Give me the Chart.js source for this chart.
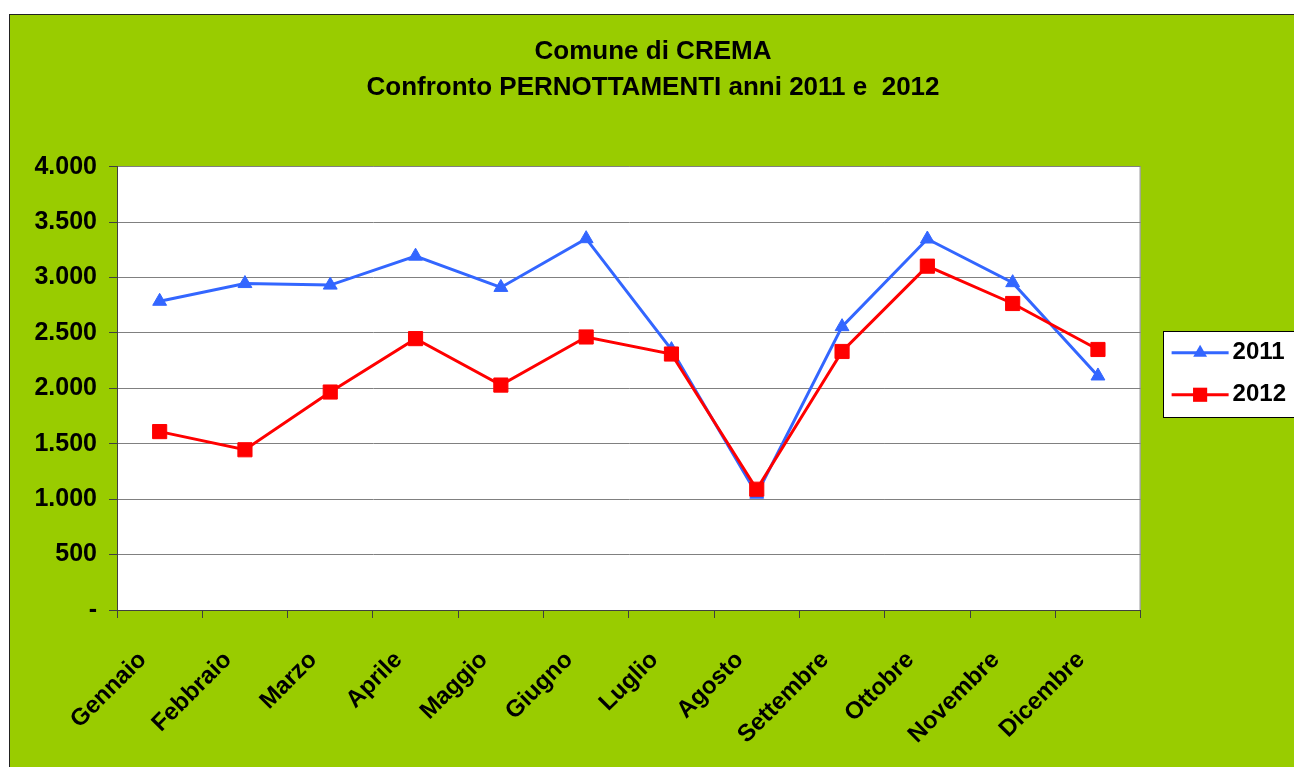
<!DOCTYPE html>
<html>
<head>
<meta charset="utf-8">
<script src="https://cdn.jsdelivr.net/npm/chart.js@4.4.1/dist/chart.umd.min.js"></script>
<style>
html, body { margin: 0; padding: 0; background: #fff; overflow: hidden; }
#box { position: absolute; left: 9px; top: 14px; width: 1300px; height: 760px; border: 1px solid #222; background: #99cc00; }
canvas { display: block; }
</style>
</head>
<body>
<div id="box"><canvas id="myChart" width="1300" height="760"></canvas></div>
<script>
var mesi = ['Gennaio', 'Febbraio', 'Marzo', 'Aprile', 'Maggio', 'Giugno', 'Luglio', 'Agosto', 'Settembre', 'Ottobre', 'Novembre', 'Dicembre'];
var anno2011 = [2786, 2946, 2932, 3193, 2911, 3351, 2350, 1045, 2557, 3348, 2954, 2112];
var anno2012 = [1610, 1446, 1967, 2449, 2030, 2464, 2310, 1090, 2333, 3103, 2766, 2351];
var titolo = ['Comune di CREMA', 'Confronto PERNOTTAMENTI anni 2011 e  2012'];
var yMin = 0, yMax = 4000, yStep = 500;

var font = "'Liberation Sans', Arial, sans-serif";

function formatta(v) {
    if (v === 0) return '-';
    return String(v).replace(/\B(?=(\d{3})+(?!\d))/g, '.');
}

// plot area white + gray border, legend white box, legend line+marker
var sfondo = {
    id: 'sfondo',
    beforeDraw: function(chart) {
        var ctx = chart.ctx, a = chart.chartArea;
        ctx.save();
        ctx.fillStyle = '#fff';
        ctx.fillRect(a.left, a.top, a.right - a.left, a.bottom - a.top);
        ctx.strokeStyle = '#808080';
        ctx.lineWidth = 1;
        ctx.beginPath();
        ctx.moveTo(a.right - 0.5, a.top);
        ctx.lineTo(a.right - 0.5, a.bottom);
        ctx.stroke();
        var hb = chart.legend.legendHitBoxes;
        if (hb && hb.length) {
            var first = hb[0], last = hb[hb.length - 1];
            var x = Math.round(first.left + 4), y = Math.round(first.top - 10);
            var h = Math.round(last.top + last.height + 10) - y;
            ctx.fillStyle = '#fff';
            ctx.fillRect(x, y, chart.width, h);
            ctx.strokeStyle = '#000';
            ctx.strokeRect(x + 0.5, y + 0.5, chart.width, h);
        }
        ctx.restore();
    },
    afterDraw: function(chart) {
        var ctx = chart.ctx;
        var items = chart.legend.legendItems;
        chart.legend.legendHitBoxes.forEach(function(h, i) {
            var ds = chart.data.datasets[items[i].datasetIndex];
            var y = h.top + h.height / 2;
            var cx = h.left + 41.5;
            var r = ds.pointRadius;
            ctx.save();
            ctx.strokeStyle = ds.borderColor;
            ctx.fillStyle = ds.borderColor;
            ctx.lineWidth = 3;
            ctx.beginPath();
            ctx.moveTo(h.left + 13, y);
            ctx.lineTo(h.left + 70, y);
            ctx.stroke();
            ctx.beginPath();
            if (ds.pointStyle === 'triangle') {
                ctx.moveTo(cx, y - r);
                ctx.lineTo(cx + r * 0.866, y + r / 2);
                ctx.lineTo(cx - r * 0.866, y + r / 2);
                ctx.closePath();
            } else {
                var s = r * Math.SQRT1_2;
                ctx.rect(cx - s, y - s, 2 * s, 2 * s);
            }
            ctx.fill();
            ctx.restore();
        });
    }
};

var ctx = document.getElementById('myChart');
var myChart = new Chart(ctx, {
    type: 'line',
    data: {
        labels: mesi,
        datasets: [{
            label: '2011',
            data: anno2011,
            borderColor: '#3366ff',
            backgroundColor: '#3366ff',
            borderWidth: 3,
            pointStyle: 'triangle',
            pointRadius: 8,
            pointBorderWidth: 1,
            fill: false,
            tension: 0,
            order: 1
        }, {
            label: '2012',
            data: anno2012,
            borderColor: '#ff0000',
            backgroundColor: '#ff0000',
            borderWidth: 3,
            pointStyle: 'rect',
            pointRadius: 10,
            pointBorderWidth: 1,
            fill: false,
            tension: 0,
            order: 0
        }]
    },
    options: {
        responsive: false,
        animation: false,
        layout: { padding: { left: 0, right: 14, top: 0, bottom: 0 } },
        plugins: {
            title: {
                display: true,
                text: titolo,
                color: '#000',
                font: { family: font, size: 26, weight: 'bold', lineHeight: 1.38 },
                padding: { top: 19, bottom: 61 }
            },
            legend: {
                position: 'right',
                fullSize: false,
                align: 'start',
                // empty title only used as a spacer to push the items down
                title: { display: true, text: ' ', font: { size: 12, lineHeight: 1 }, padding: { top: 144, bottom: 0 } },
                labels: {
                    color: '#000',
                    boxWidth: 62,
                    padding: 18,
                    font: { family: font, size: 24, weight: 'bold' },
                    sort: function(a, b) { return a.datasetIndex - b.datasetIndex; },
                    generateLabels: function(chart) {
                        var l = Chart.defaults.plugins.legend.labels.generateLabels(chart);
                        l.forEach(function(it) {
                            it.fillStyle = 'rgba(0,0,0,0)';
                            it.strokeStyle = 'rgba(0,0,0,0)';
                            it.lineWidth = 0;
                        });
                        return l;
                    }
                }
            },
            tooltip: { enabled: false }
        },
        scales: {
            x: {
                offset: true,
                grid: { offset: true, drawOnChartArea: false, tickLength: 8, color: '#404040', tickColor: '#404040' },
                border: { color: '#404040', width: 1 },
                ticks: {
                    autoSkip: false,
                    minRotation: 45,
                    maxRotation: 45,
                    padding: 28,
                    labelOffset: -17,
                    color: '#000',
                    font: { family: font, size: 24, weight: 'bold' }
                },
                afterFit: function(s) { s.height = 165; }
            },
            y: {
                min: yMin,
                max: yMax,
                grid: { color: '#808080', tickLength: 8, tickColor: '#404040' },
                border: { color: '#404040', width: 1 },
                ticks: {
                    stepSize: yStep,
                    padding: 12,
                    color: '#000',
                    font: { family: font, size: 25, weight: 'bold' },
                    callback: function(v) { return formatta(v); }
                },
                afterFit: function(s) { s.width = 107; }
            }
        }
    },
    plugins: [sfondo]
});
</script>
</body>
</html>
